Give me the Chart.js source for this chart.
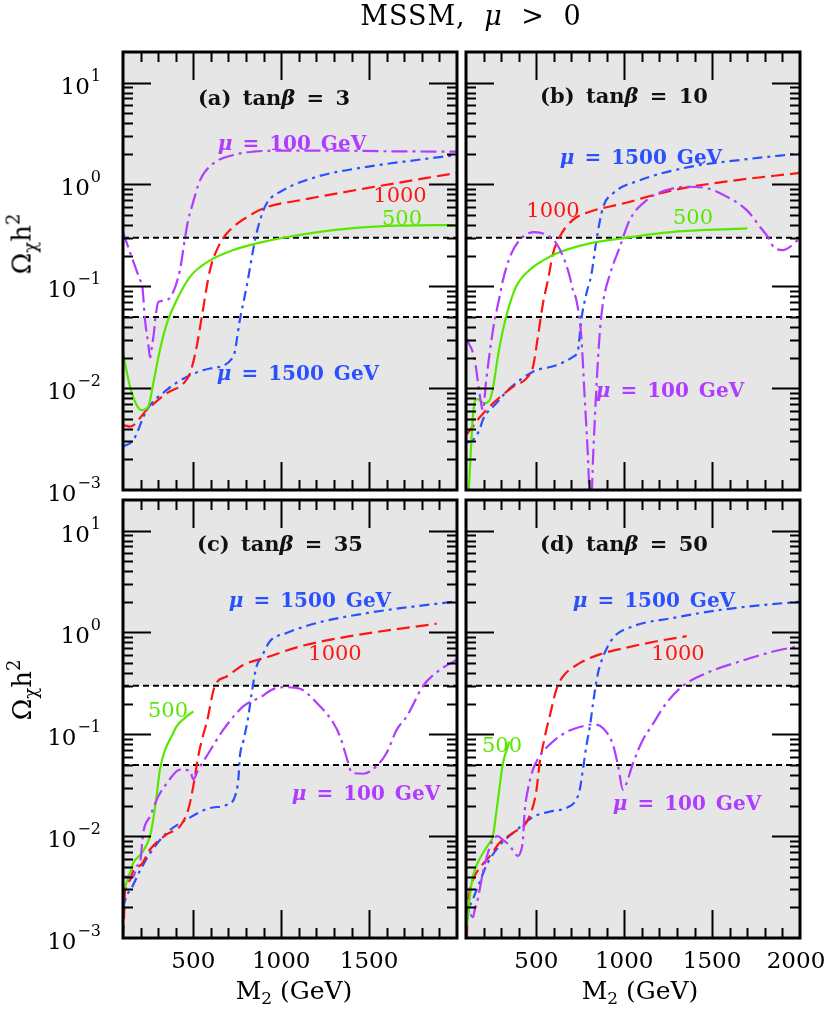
<!DOCTYPE html>
<html><head><meta charset="utf-8">
<script src="https://cdn.jsdelivr.net/npm/chart.js@4.4.1/dist/chart.umd.min.js"></script>
<style>
html,body{margin:0;padding:0;background:#fff}
body{width:830px;height:1009px;position:relative;overflow:hidden}
canvas{position:absolute;left:0;top:0}
.lab{position:absolute;white-space:pre;font-family:"DejaVu Serif",serif;line-height:1;transform:translate(-50%,-50%)}
.b{font-weight:bold;font-size:20px;word-spacing:3px}
.r{font-size:21px}
.pl{font-weight:bold;font-size:21px;word-spacing:4px;color:#111}
.ttl{font-size:27px;word-spacing:9px;letter-spacing:1px}
.ax{font-size:25px}
.ax sub{font-size:17px;vertical-align:-5px}
.yt{font-size:26px;transform:translate(-50%,-50%) rotate(-90deg)}
.yt sub{font-size:18px;vertical-align:-6px}
.yt sup{font-size:18px;vertical-align:11px}
.pu{color:#b03cff}.gr{color:#58e800}.rd{color:#ff1414}.bl{color:#2a50ff}
</style></head>
<body>
<canvas id="ca" width="830" height="1009"></canvas>
<canvas id="cb" width="830" height="1009"></canvas>
<canvas id="cc" width="830" height="1009"></canvas>
<canvas id="cd" width="830" height="1009"></canvas>

<div class="lab ttl" style="left:471px;top:15px">MSSM, <i>μ</i> &gt; 0</div>
<div class="lab yt" style="left:22px;top:244px">Ω<sub>χ</sub>h<sup>2</sup></div>
<div class="lab yt" style="left:22px;top:690px">Ω<sub>χ</sub>h<sup>2</sup></div>
<div class="lab ax" style="left:294px;top:992px">M<sub>2</sub> (GeV)</div>
<div class="lab ax" style="left:640px;top:992px">M<sub>2</sub> (GeV)</div>

<div class="lab pl" style="left:274px;top:97px">(a) tan<i>β</i> = 3</div>
<div class="lab b pu" style="left:292px;top:143px"><i>μ</i> = 100 GeV</div>
<div class="lab r rd" style="left:400px;top:195px">1000</div>
<div class="lab r gr" style="left:402px;top:218px">500</div>
<div class="lab b bl" style="left:298px;top:373px"><i>μ</i> = 1500 GeV</div>

<div class="lab pl" style="left:624px;top:95px">(b) tan<i>β</i> = 10</div>
<div class="lab b bl" style="left:641px;top:157px"><i>μ</i> = 1500 GeV</div>
<div class="lab r rd" style="left:553px;top:210px">1000</div>
<div class="lab r gr" style="left:693px;top:217px">500</div>
<div class="lab b pu" style="left:670px;top:390px"><i>μ</i> = 100 GeV</div>

<div class="lab pl" style="left:280px;top:543px">(c) tan<i>β</i> = 35</div>
<div class="lab b bl" style="left:310px;top:600px"><i>μ</i> = 1500 GeV</div>
<div class="lab r rd" style="left:335px;top:653px">1000</div>
<div class="lab r gr" style="left:168px;top:710px">500</div>
<div class="lab b pu" style="left:366px;top:793px"><i>μ</i> = 100 GeV</div>

<div class="lab pl" style="left:624px;top:543px">(d) tan<i>β</i> = 50</div>
<div class="lab b bl" style="left:654px;top:600px"><i>μ</i> = 1500 GeV</div>
<div class="lab r rd" style="left:678px;top:653px">1000</div>
<div class="lab r gr" style="left:502px;top:745px">500</div>
<div class="lab b pu" style="left:687px;top:803px"><i>μ</i> = 100 GeV</div>

<script>
// ---------- DATA (M2 in GeV, Omega h^2) ----------
// Panel (a) tan beta = 3
const aMu100M  = [100,149,197,210,225,244,254,265,275,285,301,329,377,424,453,471,491,538,614,727,841,1000,1300,1600,2000];
const aMu100V  = [0.34,0.195,0.115,0.10,0.047,0.027,0.020,0.026,0.034,0.050,0.070,0.072,0.082,0.145,0.30,0.45,0.60,1.1,1.61,1.95,2.1,2.15,2.15,2.12,2.1];
const aMu500M  = [100,140,178,206,244,272,310,349,405,481,595,727,860,1012,1296,1580,2000];
const aMu500V  = [0.022,0.0103,0.0068,0.0061,0.0066,0.0111,0.0237,0.043,0.073,0.124,0.18,0.227,0.264,0.30,0.356,0.39,0.40];
const aMu1000M = [100,140,235,349,443,481,519,548,595,642,690,841,917,1107,1486,2000];
const aMu1000V = [0.00434,0.0042,0.0061,0.0089,0.0111,0.014,0.0255,0.050,0.145,0.244,0.33,0.52,0.60,0.70,0.92,1.3];
const aMu1500M = [100,159,235,349,462,595,727,765,803,851,880,917,1012,1202,1486,1771,2000];
const aMu1500V = [0.00266,0.0031,0.0061,0.0096,0.0129,0.0156,0.0203,0.047,0.099,0.284,0.45,0.65,0.88,1.19,1.49,1.74,1.95];

// Panel (b) tan beta = 10
const bMu100M  = [100,148,177,196,215,253,291,310,358,424,490,557,614,661,690,708,728,756,775,794,804,814,823,842,861,880,918,975,1032,1127,1241,1355,1469,1583,1697,1772,1829,1848,1905,1943,2000];
const bMu100V  = [0.031,0.0196,0.0089,0.0061,0.012,0.037,0.079,0.115,0.21,0.307,0.34,0.32,0.264,0.18,0.125,0.092,0.073,0.032,0.0082,0.0021,0.0009,0.0009,0.0021,0.0103,0.035,0.07,0.13,0.244,0.45,0.70,0.88,0.95,0.92,0.76,0.56,0.385,0.284,0.244,0.227,0.244,0.30];
const bMu500M  = [116,130,139,152,170,187,205,234,253,281,310,338,386,462,540,614,804,975,1278,1700];
const bMu500V  = [0.001,0.0029,0.0052,0.0076,0.0078,0.0074,0.0071,0.0076,0.0099,0.0203,0.037,0.058,0.10,0.145,0.18,0.21,0.264,0.294,0.343,0.37];
const bMu1000M = [100,139,167,215,272,367,452,481,509,538,566,595,633,708,804,993,1278,1563,2000];
const bMu1000V = [0.00346,0.0042,0.0049,0.0061,0.0076,0.0103,0.0129,0.0162,0.032,0.068,0.115,0.21,0.307,0.45,0.54,0.65,0.88,1.06,1.30];
const bMu1500M = [100,139,177,196,272,348,481,614,708,737,756,785,813,842,880,937,1089,1373,1658,2000];
const bMu1500V = [0.0029,0.0031,0.0039,0.0049,0.0071,0.0099,0.0145,0.0168,0.0203,0.0237,0.047,0.085,0.13,0.284,0.60,0.82,1.1,1.49,1.74,2.02];

// Panel (c) tan beta = 35
const cMu100M  = [100,159,178,197,215,254,301,349,424,481,500,528,576,671,784,879,974,1031,1107,1202,1296,1334,1382,1401,1467,1543,1600,1657,1714,1808,1903,2000];
const cMu100V  = [0.0040,0.0040,0.0051,0.0055,0.0108,0.0157,0.0246,0.033,0.045,0.044,0.036,0.045,0.061,0.111,0.188,0.23,0.286,0.29,0.28,0.204,0.13,0.096,0.052,0.042,0.041,0.049,0.066,0.111,0.15,0.30,0.43,0.54];
const cMu500M  = [100,140,159,206,254,272,291,310,339,377,405,462,500];
const cMu500V  = [0.0028,0.0044,0.0055,0.0068,0.010,0.0146,0.0246,0.045,0.070,0.096,0.12,0.15,0.168];
const cMu1000M = [100,106,111,140,159,206,254,349,424,471,500,528,557,576,623,690,784,917,1107,1391,1884];
const cMu1000V = [0.001,0.0016,0.0028,0.0037,0.0046,0.0053,0.0074,0.0104,0.0125,0.0182,0.031,0.061,0.10,0.13,0.30,0.37,0.48,0.57,0.73,0.92,1.22];
const cMu1500M = [100,121,149,197,254,349,462,595,690,737,756,765,784,813,832,860,889,936,1031,1202,1486,2000];
const cMu1500V = [0.00197,0.0026,0.0031,0.0046,0.0068,0.0108,0.0146,0.0189,0.0203,0.0246,0.036,0.061,0.085,0.15,0.255,0.466,0.58,0.82,0.99,1.24,1.55,2.03];

// Panel (d) tan beta = 50
const dMu100M  = [125,140,150,167,196,224,253,281,310,348,395,415,424,433,452,481,519,595,671,747,823,880,937,965,993,1013,1050,1107,1155,1241,1335,1469,1658,1848,2000];
const dMu100V  = [0.0017,0.0016,0.0019,0.0024,0.0044,0.0068,0.0092,0.010,0.0092,0.0081,0.0064,0.0074,0.0092,0.0169,0.0286,0.045,0.061,0.085,0.105,0.118,0.125,0.115,0.078,0.049,0.0286,0.033,0.052,0.089,0.12,0.204,0.30,0.40,0.52,0.65,0.74];
const dMu500M  = [105,120,139,167,196,234,253,272,291,310,338,345];
const dMu500V  = [0.0013,0.0024,0.0040,0.0055,0.0068,0.0086,0.010,0.0169,0.0303,0.052,0.076,0.085];
const dMu1000M = [105,110,120,148,187,234,291,367,443,481,500,519,538,557,576,614,652,747,861,1013,1184,1355];
const dMu1000V = [0.001,0.0019,0.0028,0.0040,0.0051,0.0063,0.0086,0.0108,0.0136,0.0196,0.0277,0.052,0.0775,0.111,0.15,0.275,0.37,0.50,0.61,0.71,0.82,0.92];
const dMu1500M = [105,120,139,177,215,291,386,481,595,671,728,747,765,785,808,823,851,880,937,1050,1278,1563,1962,2000];
const dMu1500V = [0.0015,0.002,0.0024,0.0035,0.0051,0.0081,0.0114,0.0154,0.0177,0.0189,0.0229,0.0286,0.045,0.0775,0.13,0.204,0.40,0.58,0.885,1.15,1.39,1.68,1.98,2.0];

// Preferred-relic band and axis ticks
const bandHigh = 0.3, bandLow = 0.05;
const xRange = [100, 2000];
const yRange = [0.001, 20];
const xMajorTicks = [500, 1000, 1500];
const xTickLabelsLeft  = [500, 1000, 1500];
const xTickLabelsRight = [500, 1000, 1500, 2000];
const yTickExponents = [1, 0, -1, -2, -3];

// ---------- STYLE ----------
const styles = {
  mu100:  {color:'#b03cff', dash:[16,5,3,5]},
  mu500:  {color:'#58e800', dash:[]},
  mu1000: {color:'#ff1414', dash:[13,6]},
  mu1500: {color:'#2a50ff', dash:[10,5,3,5]}
};

const panels = [
  {canvas:'ca', pad:{left:123, top:52,  right:373, bottom:519}, yLab:true,  xLab:null,
   series:{mu100:[aMu100M,aMu100V], mu500:[aMu500M,aMu500V], mu1000:[aMu1000M,aMu1000V], mu1500:[aMu1500M,aMu1500V]}},
  {canvas:'cb', pad:{left:466, top:52,  right:30,  bottom:519}, yLab:false, xLab:null,
   series:{mu100:[bMu100M,bMu100V], mu500:[bMu500M,bMu500V], mu1000:[bMu1000M,bMu1000V], mu1500:[bMu1500M,bMu1500V]}},
  {canvas:'cc', pad:{left:123, top:500, right:373, bottom:71},  yLab:true,  xLab:xTickLabelsLeft,
   series:{mu100:[cMu100M,cMu100V], mu500:[cMu500M,cMu500V], mu1000:[cMu1000M,cMu1000V], mu1500:[cMu1500M,cMu1500V]}},
  {canvas:'cd', pad:{left:466, top:500, right:30,  bottom:71},  yLab:false, xLab:xTickLabelsRight,
   series:{mu100:[dMu100M,dMu100V], mu500:[dMu500M,dMu500V], mu1000:[dMu1000M,dMu1000V], mu1500:[dMu1500M,dMu1500V]}}
];

const decoPlugin = {
  id: 'deco',
  beforeDatasetsDraw(chart, args, opts) {
    const {ctx, chartArea:a, scales:{y}} = chart;
    ctx.save();
    ctx.fillStyle = '#e6e6e6';
    ctx.fillRect(a.left, a.top, a.right - a.left, a.bottom - a.top);
    const yh = y.getPixelForValue(bandHigh), yl = y.getPixelForValue(bandLow);
    ctx.fillStyle = '#ffffff';
    ctx.fillRect(a.left, yh, a.right - a.left, yl - yh);
    ctx.restore();
  },
  afterDatasetsDraw(chart, args, opts) {
    const {ctx, chartArea:a, scales:{x, y}} = chart;
    const L = a.left, R = a.right, T = a.top, B = a.bottom;
    ctx.save();
    ctx.strokeStyle = '#000';
    ctx.lineWidth = 2;
    ctx.beginPath();
    for (let m = xRange[0] + 100; m < xRange[1]; m += 100) {
      const px = Math.round(x.getPixelForValue(m)) + 0.5;
      const len = xMajorTicks.includes(m) ? 28 : 10;
      ctx.moveTo(px, B); ctx.lineTo(px, B - len);
      ctx.moveTo(px, T); ctx.lineTo(px, T + len);
    }
    for (let d = -3; d <= 1; d++) {
      for (let k = 1; k <= 9; k++) {
        const v = k * Math.pow(10, d);
        if (v <= yRange[0] * 1.0001 || v >= yRange[1] * 0.9999) continue;
        const py = Math.round(y.getPixelForValue(v)) + 0.5;
        const len = k === 1 ? 28 : 10;
        ctx.moveTo(L, py); ctx.lineTo(L + len, py);
        ctx.moveTo(R, py); ctx.lineTo(R - len, py);
      }
    }
    ctx.stroke();
    ctx.lineWidth = 3;
    ctx.strokeRect(L, T, R - L, B - T);

    ctx.fillStyle = '#000';
    if (opts.yLab) {
      for (const e of yTickExponents) {
        const py = y.getPixelForValue(Math.pow(10, e));
        const ex = e < 0 ? '\u2212' + Math.abs(e) : String(e);
        ctx.font = '16px "DejaVu Serif"';
        ctx.textAlign = 'right';
        ctx.textBaseline = 'alphabetic';
        const ew = ctx.measureText(ex).width;
        ctx.fillText(ex, 101, py - 2);
        ctx.font = '23px "DejaVu Serif"';
        ctx.fillText('10', 101 - ew - 1, py + 11);
      }
    }
    if (opts.xLab) {
      ctx.font = '23px "DejaVu Serif"';
      ctx.textAlign = 'center';
      ctx.textBaseline = 'alphabetic';
      for (const m of opts.xLab) {
        let px = x.getPixelForValue(m);
        if (m === xRange[1]) px -= 4;
        ctx.fillText(String(m), px, B + 30);
      }
    }
    ctx.restore();
  }
};

for (const p of panels) {
  const datasets = [];
  for (const key of ['mu100','mu500','mu1000','mu1500']) {
    const [ms, vs] = p.series[key];
    const st = styles[key];
    datasets.push({
      data: ms.map((m, i) => ({x: m, y: vs[i]})),
      borderColor: st.color, borderWidth: 2.2, borderDash: st.dash,
      pointRadius: 0, fill: false, cubicInterpolationMode: 'monotone', order: 1
    });
  }
  for (const lv of [bandHigh, bandLow]) {
    datasets.push({
      data: xRange.map(m => ({x: m, y: lv})),
      borderColor: '#000', borderWidth: 2, borderDash: [6, 4],
      pointRadius: 0, fill: false, order: 2
    });
  }
  new Chart(document.getElementById(p.canvas), {
    type: 'line',
    data: {datasets},
    options: {
      responsive: false, animation: false, devicePixelRatio: 1,
      layout: {padding: p.pad},
      plugins: {legend: {display: false}, tooltip: {enabled: false},
                deco: {yLab: p.yLab, xLab: p.xLab}},
      scales: {
        x: {type: 'linear', min: xRange[0], max: xRange[1], display: false},
        y: {type: 'logarithmic', min: yRange[0], max: yRange[1], display: false}
      }
    },
    plugins: [decoPlugin]
  });
}
</script>
</body></html>
